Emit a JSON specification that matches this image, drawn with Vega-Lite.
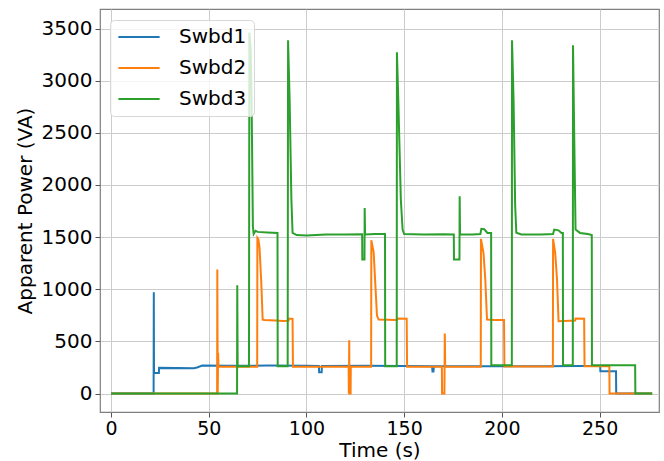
{
  "$schema": "https://vega.github.io/schema/vega-lite/v6.json",
  "autosize": {"type": "none"},
  "padding": {"left": 100, "top": 9, "right": 5, "bottom": 49},
  "width": 559,
  "height": 403,
  "background": "white",
  "config": {
    "font": "DejaVu Sans",
    "view": {"stroke": "#7f7f7f", "strokeWidth": 1.2},
    "axis": {
      "labelFont": "DejaVu Sans",
      "titleFont": "DejaVu Sans",
      "labelFontSize": 20,
      "titleFontSize": 20,
      "labelColor": "#000000",
      "titleColor": "#000000",
      "titleFontWeight": "normal",
      "tickColor": "#555555",
      "tickSize": 5,
      "labelPadding": 3,
      "domain": false,
      "gridColor": "#cccccc",
      "gridWidth": 1,
      "format": "d"
    }
  },
  "data": {
    "values": [
      {"s": "Swbd1", "t": 0, "p": 0}, {"s": "Swbd1", "t": 21.8, "p": 0}, {"s": "Swbd1", "t": 21.9, "p": 971}, {"s": "Swbd1", "t": 22.0, "p": 198},
      {"s": "Swbd1", "t": 24.5, "p": 198}, {"s": "Swbd1", "t": 24.6, "p": 246}, {"s": "Swbd1", "t": 42.4, "p": 242}, {"s": "Swbd1", "t": 44, "p": 250},
      {"s": "Swbd1", "t": 46.7, "p": 268}, {"s": "Swbd1", "t": 60, "p": 266}, {"s": "Swbd1", "t": 80, "p": 268}, {"s": "Swbd1", "t": 100, "p": 266},
      {"s": "Swbd1", "t": 106.4, "p": 264}, {"s": "Swbd1", "t": 106.5, "p": 205}, {"s": "Swbd1", "t": 107.8, "p": 205}, {"s": "Swbd1", "t": 107.9, "p": 264},
      {"s": "Swbd1", "t": 130, "p": 266}, {"s": "Swbd1", "t": 150, "p": 264}, {"s": "Swbd1", "t": 164.3, "p": 262}, {"s": "Swbd1", "t": 164.5, "p": 211},
      {"s": "Swbd1", "t": 165, "p": 211}, {"s": "Swbd1", "t": 165.2, "p": 262}, {"s": "Swbd1", "t": 190, "p": 262}, {"s": "Swbd1", "t": 220, "p": 262},
      {"s": "Swbd1", "t": 240, "p": 264}, {"s": "Swbd1", "t": 250.3, "p": 264}, {"s": "Swbd1", "t": 250.4, "p": 214}, {"s": "Swbd1", "t": 258.4, "p": 214},
      {"s": "Swbd1", "t": 258.5, "p": 0}, {"s": "Swbd1", "t": 276.9, "p": 0},

      {"s": "Swbd2", "t": 0, "p": 0}, {"s": "Swbd2", "t": 54.3, "p": 0}, {"s": "Swbd2", "t": 54.4, "p": 1189}, {"s": "Swbd2", "t": 54.6, "p": 0},
      {"s": "Swbd2", "t": 54.8, "p": 390}, {"s": "Swbd2", "t": 55.0, "p": 256}, {"s": "Swbd2", "t": 74.8, "p": 256}, {"s": "Swbd2", "t": 74.9, "p": 1493},
      {"s": "Swbd2", "t": 75.4, "p": 1480}, {"s": "Swbd2", "t": 76.0, "p": 1400}, {"s": "Swbd2", "t": 76.9, "p": 1062}, {"s": "Swbd2", "t": 77.6, "p": 709},
      {"s": "Swbd2", "t": 78.5, "p": 705}, {"s": "Swbd2", "t": 84.3, "p": 700}, {"s": "Swbd2", "t": 88, "p": 696}, {"s": "Swbd2", "t": 90.8, "p": 698},
      {"s": "Swbd2", "t": 91.1, "p": 719}, {"s": "Swbd2", "t": 92.9, "p": 716}, {"s": "Swbd2", "t": 93.1, "p": 256}, {"s": "Swbd2", "t": 121.6, "p": 256},
      {"s": "Swbd2", "t": 121.7, "p": 0}, {"s": "Swbd2", "t": 121.9, "p": 511}, {"s": "Swbd2", "t": 122.0, "p": 0}, {"s": "Swbd2", "t": 122.6, "p": 0},
      {"s": "Swbd2", "t": 122.7, "p": 256}, {"s": "Swbd2", "t": 133.1, "p": 256}, {"s": "Swbd2", "t": 133.2, "p": 1470}, {"s": "Swbd2", "t": 134.4, "p": 1353},
      {"s": "Swbd2", "t": 135.2, "p": 1066}, {"s": "Swbd2", "t": 136.1, "p": 747}, {"s": "Swbd2", "t": 136.9, "p": 709}, {"s": "Swbd2", "t": 146.2, "p": 705},
      {"s": "Swbd2", "t": 146.4, "p": 720}, {"s": "Swbd2", "t": 151.3, "p": 718}, {"s": "Swbd2", "t": 151.5, "p": 258}, {"s": "Swbd2", "t": 169.3, "p": 258},
      {"s": "Swbd2", "t": 169.4, "p": 0}, {"s": "Swbd2", "t": 170.6, "p": 0}, {"s": "Swbd2", "t": 170.8, "p": 575}, {"s": "Swbd2", "t": 171.0, "p": 258},
      {"s": "Swbd2", "t": 189.2, "p": 258}, {"s": "Swbd2", "t": 189.3, "p": 1483}, {"s": "Swbd2", "t": 190.6, "p": 1346}, {"s": "Swbd2", "t": 191.5, "p": 1100},
      {"s": "Swbd2", "t": 192.4, "p": 709}, {"s": "Swbd2", "t": 196, "p": 705}, {"s": "Swbd2", "t": 201.1, "p": 705}, {"s": "Swbd2", "t": 201.3, "p": 260},
      {"s": "Swbd2", "t": 226.1, "p": 260}, {"s": "Swbd2", "t": 226.2, "p": 1483}, {"s": "Swbd2", "t": 227.3, "p": 1346}, {"s": "Swbd2", "t": 228.2, "p": 1100},
      {"s": "Swbd2", "t": 229.0, "p": 694}, {"s": "Swbd2", "t": 237.5, "p": 700}, {"s": "Swbd2", "t": 237.7, "p": 720}, {"s": "Swbd2", "t": 242.1, "p": 718},
      {"s": "Swbd2", "t": 242.3, "p": 262}, {"s": "Swbd2", "t": 255.0, "p": 262}, {"s": "Swbd2", "t": 255.1, "p": 0}, {"s": "Swbd2", "t": 276.9, "p": 0},

      {"s": "Swbd3", "t": 0, "p": 0}, {"s": "Swbd3", "t": 64.5, "p": 0}, {"s": "Swbd3", "t": 64.6, "p": 1039}, {"s": "Swbd3", "t": 64.8, "p": 262},
      {"s": "Swbd3", "t": 70.6, "p": 262}, {"s": "Swbd3", "t": 70.8, "p": 3460}, {"s": "Swbd3", "t": 71.5, "p": 3300}, {"s": "Swbd3", "t": 72.0, "p": 2700},
      {"s": "Swbd3", "t": 72.6, "p": 1600}, {"s": "Swbd3", "t": 73.0, "p": 1530}, {"s": "Swbd3", "t": 74, "p": 1560}, {"s": "Swbd3", "t": 75, "p": 1550},
      {"s": "Swbd3", "t": 80, "p": 1545}, {"s": "Swbd3", "t": 85.2, "p": 1540}, {"s": "Swbd3", "t": 85.3, "p": 262}, {"s": "Swbd3", "t": 90.4, "p": 262},
      {"s": "Swbd3", "t": 90.6, "p": 3388}, {"s": "Swbd3", "t": 91.4, "p": 2815}, {"s": "Swbd3", "t": 92.3, "p": 1862}, {"s": "Swbd3", "t": 92.9, "p": 1541},
      {"s": "Swbd3", "t": 95, "p": 1520}, {"s": "Swbd3", "t": 100, "p": 1515}, {"s": "Swbd3", "t": 110, "p": 1525}, {"s": "Swbd3", "t": 120, "p": 1525},
      {"s": "Swbd3", "t": 128.5, "p": 1528}, {"s": "Swbd3", "t": 128.6, "p": 1285}, {"s": "Swbd3", "t": 129.7, "p": 1285}, {"s": "Swbd3", "t": 129.8, "p": 1780},
      {"s": "Swbd3", "t": 130.0, "p": 1525}, {"s": "Swbd3", "t": 135, "p": 1530}, {"s": "Swbd3", "t": 140.2, "p": 1530}, {"s": "Swbd3", "t": 140.3, "p": 262},
      {"s": "Swbd3", "t": 146.2, "p": 262}, {"s": "Swbd3", "t": 146.3, "p": 3272}, {"s": "Swbd3", "t": 147.0, "p": 2819}, {"s": "Swbd3", "t": 148.3, "p": 1860},
      {"s": "Swbd3", "t": 149.2, "p": 1572}, {"s": "Swbd3", "t": 150, "p": 1530}, {"s": "Swbd3", "t": 160, "p": 1525}, {"s": "Swbd3", "t": 170, "p": 1528},
      {"s": "Swbd3", "t": 175.4, "p": 1525}, {"s": "Swbd3", "t": 175.5, "p": 1285}, {"s": "Swbd3", "t": 178.3, "p": 1285}, {"s": "Swbd3", "t": 178.4, "p": 1892},
      {"s": "Swbd3", "t": 178.6, "p": 1525}, {"s": "Swbd3", "t": 185, "p": 1525}, {"s": "Swbd3", "t": 189.0, "p": 1530}, {"s": "Swbd3", "t": 189.5, "p": 1579},
      {"s": "Swbd3", "t": 191, "p": 1575}, {"s": "Swbd3", "t": 192.6, "p": 1540}, {"s": "Swbd3", "t": 194.5, "p": 1540}, {"s": "Swbd3", "t": 194.6, "p": 272},
      {"s": "Swbd3", "t": 205.1, "p": 272}, {"s": "Swbd3", "t": 205.2, "p": 3388}, {"s": "Swbd3", "t": 206, "p": 2800}, {"s": "Swbd3", "t": 206.8, "p": 1800},
      {"s": "Swbd3", "t": 207.4, "p": 1541}, {"s": "Swbd3", "t": 210, "p": 1525}, {"s": "Swbd3", "t": 220, "p": 1525}, {"s": "Swbd3", "t": 226.2, "p": 1530},
      {"s": "Swbd3", "t": 226.8, "p": 1572}, {"s": "Swbd3", "t": 229, "p": 1565}, {"s": "Swbd3", "t": 230.5, "p": 1540}, {"s": "Swbd3", "t": 231.2, "p": 1540},
      {"s": "Swbd3", "t": 231.3, "p": 272}, {"s": "Swbd3", "t": 236.3, "p": 272}, {"s": "Swbd3", "t": 236.4, "p": 3340}, {"s": "Swbd3", "t": 237.0, "p": 2500},
      {"s": "Swbd3", "t": 237.7, "p": 1572}, {"s": "Swbd3", "t": 240, "p": 1540}, {"s": "Swbd3", "t": 244, "p": 1530}, {"s": "Swbd3", "t": 246.0, "p": 1520},
      {"s": "Swbd3", "t": 246.1, "p": 271}, {"s": "Swbd3", "t": 268.2, "p": 271}, {"s": "Swbd3", "t": 268.3, "p": 0}, {"s": "Swbd3", "t": 276.9, "p": 0}
    ]
  },
  "mark": {"type": "line", "strokeWidth": 2, "clip": true},
  "encoding": {
    "x": {
      "field": "t", "type": "quantitative",
      "scale": {"domain": [-5.63, 280.4], "nice": false, "zero": false},
      "axis": {"values": [0, 50, 100, 150, 200, 250], "title": "Time (s)", "labelFontSize": 19, "labelPadding": 2, "titlePadding": 2, "grid": true}
    },
    "y": {
      "field": "p", "type": "quantitative",
      "scale": {"domain": [-177, 3687], "nice": false, "zero": false},
      "axis": {"values": [0, 500, 1000, 1500, 2000, 2500, 3000, 3500], "title": "Apparent Power (VA)", "titlePadding": 6, "grid": true}
    },
    "color": {
      "field": "s", "type": "nominal",
      "scale": {"domain": ["Swbd1", "Swbd2", "Swbd3"], "range": ["#1f77b4", "#ff7f0e", "#2ca02c"]},
      "legend": {
        "title": null,
        "orient": "none",
        "legendX": 10,
        "legendY": 11,
        "symbolType": "stroke",
        "symbolSize": 1700,
        "symbolStrokeWidth": 2,
        "labelFontSize": 20,
        "labelFont": "DejaVu Sans",
        "labelColor": "#000000",
        "labelOffset": 18,
        "clipHeight": 20,
        "rowPadding": 11,
        "padding": 7,
        "fillColor": "rgba(255,255,255,0.8)",
        "strokeColor": "#d8d8d8",
        "cornerRadius": 4
      }
    }
  }
}
